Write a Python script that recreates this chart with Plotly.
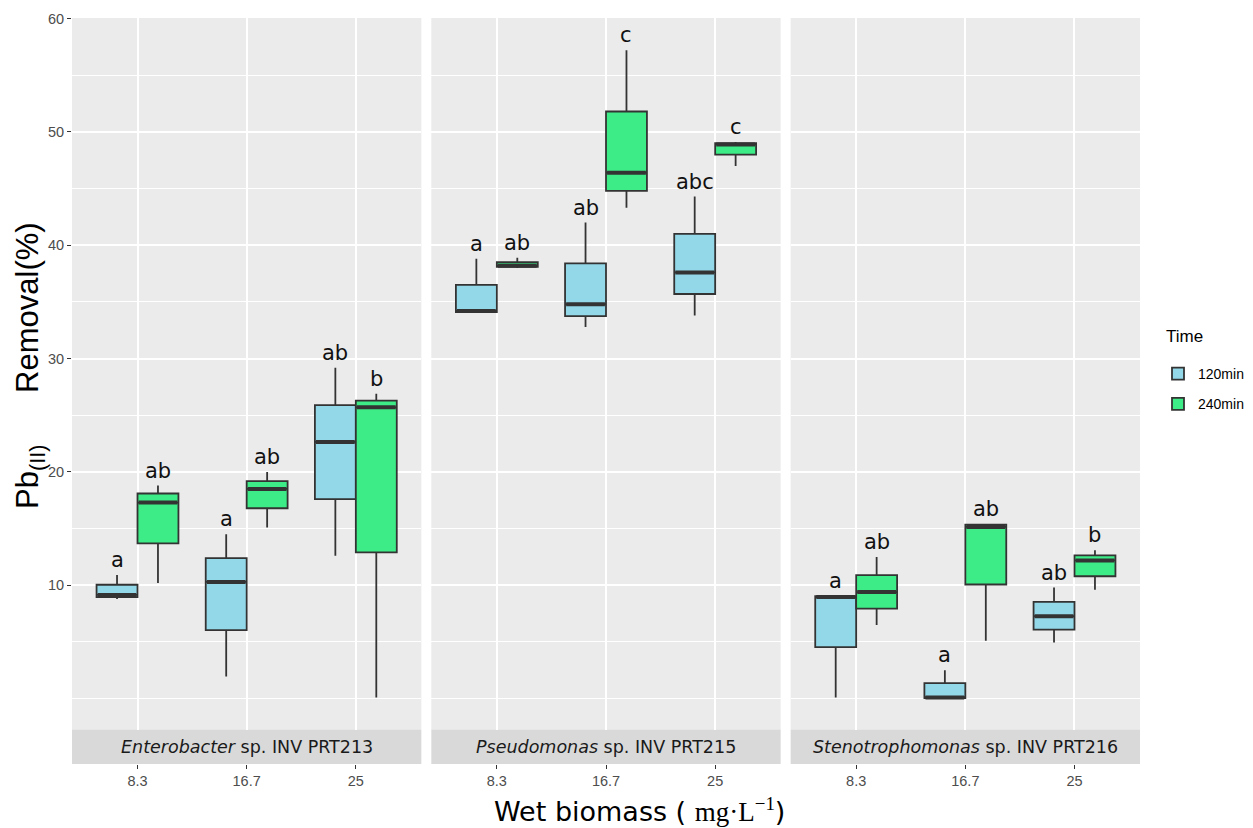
import plotly.graph_objects as go

# ---------------- data ----------------
doses = ["8.3", "16.7", "25"]
times = ["120min", "240min"]
strain_genus = ["Enterobacter", "Pseudomonas", "Stenotrophomonas"]
strain_rest = ["sp. INV PRT213", "sp. INV PRT215", "sp. INV PRT216"]

# five-number summaries per dose: [lower whisker, q1, median, q3, upper whisker]
ent_120 = [[8.8, 8.95, 9.15, 10.05, 10.9], [1.95, 6.05, 10.3, 12.4, 14.5], [12.6, 17.6, 22.65, 25.9, 29.2]]
ent_240 = [[10.2, 13.7, 17.3, 18.1, 18.8], [15.1, 16.8, 18.5, 19.2, 20.0], [0.1, 12.9, 25.7, 26.3, 26.9]]
pse_120 = [[34.05, 34.1, 34.2, 36.5, 38.8], [32.8, 33.75, 34.8, 38.4, 42.0], [33.8, 35.7, 37.6, 41.0, 44.3]]
pse_240 = [[38.0, 38.1, 38.2, 38.5, 38.9], [43.3, 44.8, 46.4, 51.8, 57.2], [47.0, 48.0, 48.9, 49.0, 49.1]]
ste_120 = [[0.1, 4.55, 8.98, 9.05, 9.1], [0.0, 0.05, 0.1, 1.37, 2.5], [4.95, 6.1, 7.27, 8.54, 9.8]]
ste_240 = [[6.5, 7.95, 9.4, 10.9, 12.5], [5.1, 10.07, 15.15, 15.36, 15.4], [9.6, 10.8, 12.2, 12.65, 13.1]]

ent_120_letters = ["a", "a", "ab"]
ent_240_letters = ["ab", "ab", "b"]
pse_120_letters = ["a", "ab", "abc"]
pse_240_letters = ["ab", "c", "c"]
ste_120_letters = ["a", "a", "ab"]
ste_240_letters = ["ab", "ab", "b"]

y_ticks = [10, 20, 30, 40, 50, 60]

# ---------------- styling ----------------
fill_colors = {"120min": "#93D8E8", "240min": "#3DEC87"}
line_col = "#333333"
box_w = 0.375
offsets = {"120min": -0.1875, "240min": 0.1875}

panels = [
    (ent_120, ent_240, ent_120_letters, ent_240_letters),
    (pse_120, pse_240, pse_120_letters, pse_240_letters),
    (ste_120, ste_240, ste_120_letters, ste_240_letters),
]

# layout geometry (pixels)
W, H = 1253, 828
ml, mr, mt, mb = 72, 113, 18, 64
plot_w = W - ml - mr
plot_h = H - mt - mb
gap = 10
pw = (plot_w - 2 * gap) / 3
strip_h = 34.5
ydom0 = strip_h / plot_h

fig = go.Figure()
annotations = []
shapes = []

for pi, (d120, d240, l120, l240) in enumerate(panels):
    xa = "x" if pi == 0 else f"x{pi+1}"
    for t, data, letters in (("120min", d120, l120), ("240min", d240, l240)):
        xs = [i + 1 + offsets[t] for i in range(len(doses))]
        fig.add_trace(go.Box(
            x=xs,
            lowerfence=[d[0] for d in data],
            q1=[d[1] for d in data],
            median=[d[2] for d in data],
            q3=[d[3] for d in data],
            upperfence=[d[4] for d in data],
            width=box_w,
            fillcolor=fill_colors[t],
            line=dict(color=line_col, width=1.8),
            whiskerwidth=0,
            name=t,
            legendgroup=t,
            showlegend=(pi == 0),
            xaxis=xa, yaxis="y",
            boxpoints=False,
        ))
        # thick median line (ggplot style)
        mx, my = [], []
        for xc, d in zip(xs, data):
            mx += [xc - box_w / 2 + 0.01, xc + box_w / 2 - 0.01, None]
            my += [d[2], d[2], None]
        fig.add_trace(go.Scatter(
            x=mx, y=my, mode="lines", line=dict(color=line_col, width=4),
            showlegend=False, hoverinfo="skip", xaxis=xa, yaxis="y",
        ))
        for xc, d, letter in zip(xs, data, letters):
            annotations.append(dict(
                x=xc, y=d[4], xref=xa, yref="y", text=letter, showarrow=False,
                yanchor="bottom", xanchor="center", yshift=1,
                font=dict(family="DejaVu Sans", size=21, color="#111111"),
            ))
    # panel background
    shapes.append(dict(type="rect", xref=f"{xa} domain", yref="y domain",
                       x0=0, x1=1, y0=0, y1=1, fillcolor="#EBEBEB",
                       line=dict(width=0), layer="below"))
    # strip
    shapes.append(dict(type="rect", xref=f"{xa} domain", yref="paper",
                       x0=0, x1=1, y0=0, y1=ydom0, fillcolor="#D9D9D9",
                       line=dict(width=0), layer="below"))
    annotations.append(dict(
        x=0.5, y=ydom0 / 2, xref=f"{xa} domain", yref="paper",
        text=f"<i>{strain_genus[pi]}</i> {strain_rest[pi]}", showarrow=False,
        xanchor="center", yanchor="middle",
        font=dict(family="DejaVu Sans", size=17.5, color="#1A1A1A"),
    ))

# axis titles
annotations.append(dict(
    x=(30 - ml) / plot_w, y=(H - mb - 366) / plot_h, xref="paper", yref="paper",
    text="Pb<sub>(II)</sub>      Removal(%)",
    textangle=-90, showarrow=False,
    xanchor="center", yanchor="middle",
    font=dict(family="Liberation Sans", size=31, color="#000000"),
))
annotations.append(dict(
    x=(639 - ml) / plot_w, y=(H - mb - 810) / plot_h, xref="paper", yref="paper",
    text="Wet biomass ( <span style='font-family:Liberation Serif'>mg·L<sup>−1</sup></span>)",
    showarrow=False, xanchor="center", yanchor="middle",
    font=dict(family="DejaVu Sans", size=27, color="#000000"),
))
# legend title
annotations.append(dict(
    x=(1164 - ml) / plot_w, y=(H - mb - 337) / plot_h, xref="paper", yref="paper",
    text="Time", showarrow=False, xanchor="left", yanchor="middle",
    font=dict(family="Liberation Sans", size=17, color="#000000"),
))

xaxis_common = dict(
    range=[0.4, 3.6], tickmode="array", tickvals=[1, 2, 3], ticktext=doses,
    showgrid=True, gridcolor="white", gridwidth=1.5, zeroline=False,
    ticks="outside", ticklen=4, tickcolor=line_col, tickwidth=1,
    tickfont=dict(family="Liberation Sans", size=14.5, color="#4D4D4D"),
    anchor="free", position=0, showline=False, fixedrange=True,
)
layout_axes = {}
for pi in range(3):
    key = "xaxis" if pi == 0 else f"xaxis{pi+1}"
    d0 = pi * (pw + gap) / plot_w
    d1 = (pi * (pw + gap) + pw) / plot_w
    layout_axes[key] = dict(domain=[d0, d1], **xaxis_common)

fig.update_layout(
    width=W, height=H,
    margin=dict(l=ml, r=mr, t=mt, b=mb, autoexpand=False),
    paper_bgcolor="white", plot_bgcolor="white",
    boxmode="overlay",
    yaxis=dict(
        domain=[ydom0, 1], range=[-2.72, 60.05], anchor="x",
        tickmode="array", tickvals=y_ticks,
        showgrid=True, gridcolor="white", gridwidth=1.5, zeroline=False,
        ticks="outside", ticklen=4, tickcolor=line_col, tickwidth=1,
        tickfont=dict(family="Liberation Sans", size=14.5, color="#4D4D4D"),
        minor=dict(tickmode="linear", tick0=0, dtick=5, showgrid=True,
                   gridcolor="white", gridwidth=0.8, ticks=""),
        showline=False,
    ),
    legend=dict(
        x=(1158 - ml) / plot_w, y=(H - mb - 358) / plot_h, xanchor="left", yanchor="top",
        font=dict(family="Liberation Sans", size=14, color="#000000"),
        bgcolor="white", tracegroupgap=9,
    ),
    annotations=annotations,
    shapes=shapes,
    **layout_axes,
)

fig.write_html("out.html")
